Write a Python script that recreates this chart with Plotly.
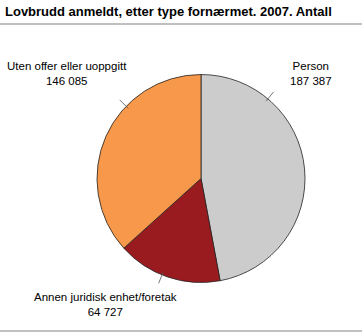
import math
import plotly.graph_objects as go

W, H = 362, 333
categories = ["Person", "Annen juridisk enhet/foretak", "Uten offer eller uoppgitt"]
values = [187387, 64727, 146085]
value_labels = ["187 387", "64 727", "146 085"]
colors = ["#cccccc", "#9a1b1f", "#f7984a"]

# pie geometry in pixels
cx, cy, r = 201, 178.5, 104
# leader line angles (deg clockwise from top), and label anchor pixel positions
leader_angles = [40, 202, 314]
label_pos = [(311, 73), (106, 304), (67, 73)]

fig = go.Figure(go.Pie(
    labels=categories, values=values, sort=False, direction="clockwise",
    rotation=0, textinfo="none", hoverinfo="label+value",
    marker=dict(colors=colors, line=dict(color="#222222", width=0.8)),
    domain=dict(x=[(cx - r) / W, (cx + r) / W], y=[1 - (cy + r) / H, 1 - (cy - r) / H]),
    showlegend=False,
))

def px(x, y):
    return x / W, 1 - y / H

shapes = []
for yline in (24, 331):
    shapes.append(dict(type="line", xref="paper", yref="paper",
                       x0=0, x1=1, y0=1 - yline / H, y1=1 - yline / H,
                       line=dict(color="#ababab", width=1.5)))
for a in leader_angles:
    t = math.radians(a)
    x0, y0 = px(cx + (r - 3) * math.sin(t), cy - (r - 3) * math.cos(t))
    x1, y1 = px(cx + (r + 9) * math.sin(t), cy - (r + 9) * math.cos(t))
    shapes.append(dict(type="line", xref="paper", yref="paper", x0=x0, y0=y0, x1=x1, y1=y1,
                       line=dict(color="#555555", width=0.8)))

annotations = [dict(text="<b>Lovbrudd anmeldt, etter type fornærmet. 2007. Antall</b>",
                    xref="paper", yref="paper", x=3 / W, y=1 - 2 / H, xanchor="left", yanchor="top",
                    showarrow=False, font=dict(size=13, color="#000000"))]
for cat, vl, (lx, ly) in zip(categories, value_labels, label_pos):
    x, y = px(lx, ly)
    annotations.append(dict(text=f"{cat}<br>{vl}", xref="paper", yref="paper", x=x, y=y,
                            xanchor="center", yanchor="middle", align="center", showarrow=False,
                            font=dict(size=11.5, color="#000000")))

fig.update_layout(width=W, height=H, margin=dict(l=0, r=0, t=0, b=0),
                  paper_bgcolor="white", plot_bgcolor="white",
                  font=dict(family="Liberation Sans, Arial, sans-serif"),
                  shapes=shapes, annotations=annotations)
fig.write_html("out.html")
